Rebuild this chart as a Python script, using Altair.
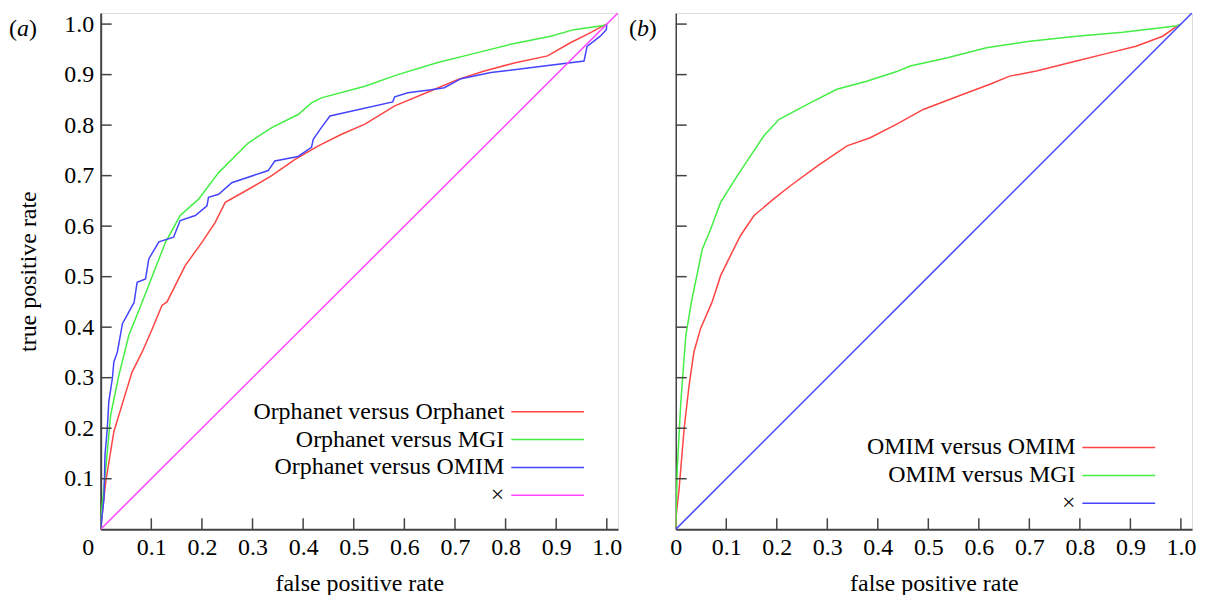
import altair as alt
import pandas as pd

# ---------------- data ----------------
# Panel (a)
a_oo_x = [0, 0.002, 0.01, 0.026, 0.046, 0.062, 0.082, 0.102, 0.121, 0.131, 0.167, 0.200, 0.226, 0.246, 0.292,
          0.338, 0.384, 0.430, 0.476, 0.522, 0.581, 0.653, 0.705, 0.758, 0.817, 0.883, 0.928, 0.968, 0.997, 1.0]
a_oo_y = [0, 0.022, 0.094, 0.193, 0.259, 0.311, 0.351, 0.397, 0.443, 0.450, 0.522, 0.568, 0.607, 0.647, 0.673,
          0.700, 0.732, 0.759, 0.782, 0.802, 0.838, 0.868, 0.890, 0.907, 0.923, 0.937, 0.963, 0.983, 0.999, 1.0]

a_om_x = [0, 0.001, 0.010, 0.0197, 0.036, 0.0557, 0.082, 0.128, 0.157, 0.193, 0.233, 0.292, 0.338, 0.390,
          0.4165, 0.436, 0.522, 0.587, 0.666, 0.731, 0.810, 0.889, 0.935, 0.994, 1.0]
a_om_y = [0, 0.028, 0.120, 0.226, 0.305, 0.384, 0.450, 0.568, 0.621, 0.653, 0.706, 0.765, 0.795, 0.821,
          0.844, 0.854, 0.877, 0.900, 0.924, 0.940, 0.960, 0.976, 0.989, 0.997, 1.0]

a_oi_x = [0, 0.0065, 0.0085, 0.013, 0.016, 0.023, 0.026, 0.033, 0.043, 0.066, 0.072, 0.0886, 0.095, 0.115,
          0.144, 0.157, 0.187, 0.210, 0.213, 0.233, 0.259, 0.331, 0.344, 0.390, 0.4165, 0.420, 0.436, 0.453,
          0.577, 0.581, 0.607, 0.653, 0.679, 0.712, 0.771, 0.955, 0.961, 0.987, 0.999, 1.0]
a_oi_y = [0, 0.061, 0.147, 0.199, 0.252, 0.298, 0.331, 0.351, 0.407, 0.449, 0.489, 0.4955, 0.535, 0.569,
          0.578, 0.611, 0.621, 0.640, 0.657, 0.663, 0.686, 0.710, 0.729, 0.738, 0.756, 0.772, 0.795, 0.818,
          0.846, 0.856, 0.864, 0.870, 0.874, 0.892, 0.904, 0.927, 0.956, 0.976, 0.989, 1.0]

diag_x = [0, 1.03]
diag_y = [0, 1.03]

# Panel (b)
b_oo_x = [0, 0.001, 0.0067, 0.0166, 0.0264, 0.036, 0.049, 0.072, 0.0888, 0.1085, 0.128, 0.155, 0.194, 0.227,
          0.280, 0.339, 0.385, 0.4375, 0.490, 0.569, 0.622, 0.661, 0.714, 0.793, 0.858, 0.911, 0.964, 0.9935, 1.0]
b_oo_y = [0, 0.028, 0.081, 0.199, 0.285, 0.351, 0.397, 0.450, 0.502, 0.542, 0.581, 0.621, 0.654, 0.680,
          0.719, 0.759, 0.775, 0.802, 0.831, 0.861, 0.881, 0.897, 0.907, 0.927, 0.943, 0.956, 0.976, 0.997, 1.0]

b_om_x = [0, 0.001, 0.003, 0.010, 0.020, 0.031, 0.0527, 0.069, 0.0888, 0.122, 0.148, 0.1745, 0.204, 0.266,
          0.319, 0.378, 0.4375, 0.464, 0.536, 0.615, 0.701, 0.793, 0.885, 0.990, 1.0]
b_om_y = [0, 0.041, 0.120, 0.252, 0.384, 0.450, 0.555, 0.594, 0.647, 0.700, 0.739, 0.779, 0.811, 0.844,
          0.871, 0.887, 0.906, 0.917, 0.933, 0.953, 0.966, 0.976, 0.984, 0.996, 1.0]

a_names = ["Orphanet versus Orphanet", "Orphanet versus MGI", "Orphanet versus OMIM", "×"]
b_names = ["OMIM versus OMIM", "OMIM versus MGI", "×"]
a_colors = ["#ff4444", "#44ee44", "#4444ff", "#ff44ff"]
b_colors = ["#ff4444", "#44ee44", "#4444ff"]

tick_vals = [0.1, 0.2, 0.3, 0.4, 0.5, 0.6, 0.7, 0.8, 0.9, 1.0]
x_label_vals = [0, 0.1, 0.2, 0.3, 0.4, 0.5, 0.6, 0.7, 0.8, 0.9, 1.0]

FONT = "Liberation Serif"
FS = 24
AX = "#444444"
DOM = [0, 1.022]


def make_df(series):
    rows = []
    for name, xs, ys in series:
        for i, (x, y) in enumerate(zip(xs, ys)):
            rows.append({"series": name, "fpr": x, "tpr": y, "i": i})
    return pd.DataFrame(rows)


def panel(series, names, colors, W, H, show_ylabels, tag, tag_dx, legend_x, legend_y0, legend_step, zero_off):
    df = make_df(series)
    xs = alt.Scale(domain=DOM, nice=False, zero=False)
    ys = alt.Scale(domain=DOM, nice=False, zero=False)
    cs = alt.Scale(domain=names, range=colors)

    xaxis = alt.Axis(values=x_label_vals, ticks=False, grid=False, domainColor=AX, domainWidth=2,
                     labelPadding=6, labelFlush=False,
                     labelExpr="datum.value == 0 ? '0' : format(datum.value, '.1f')",
                     labelOffset={"condition": {"test": "datum.value == 0", "value": zero_off}, "value": 0},
                     title="false positive rate", titlePadding=12)
    if show_ylabels:
        yaxis = alt.Axis(values=tick_vals, ticks=False, grid=False, domainColor=AX, domainWidth=2,
                         labelPadding=7, labelFlush=False, format=".1f", title="true positive rate",
                         titlePadding=23)
    else:
        yaxis = alt.Axis(values=tick_vals, ticks=False, grid=False, domainColor=AX, domainWidth=1.5,
                         labels=False, title=None)

    lines = alt.Chart(df).mark_line(clip=True, strokeWidth=1.5).encode(
        x=alt.X("fpr:Q", scale=xs, axis=xaxis),
        y=alt.Y("tpr:Q", scale=ys, axis=yaxis),
        color=alt.Color("series:N", scale=cs, legend=None),
        order=alt.Order("i:Q"),
    )
    tdf = pd.DataFrame({"t": tick_vals})
    xt = alt.Chart(tdf).mark_rule(color=AX, strokeWidth=1.5).encode(
        x=alt.X("t:Q", scale=xs, axis=xaxis), y=alt.value(H), y2=alt.value(H - 11))
    yt = alt.Chart(tdf).mark_rule(color=AX, strokeWidth=1.5).encode(
        y=alt.Y("t:Q", scale=ys, axis=yaxis), x=alt.value(0), x2=alt.value(11))

    layers = [lines, xt, yt]
    # legend built manually: label on the left, line on the right
    for k, (nm, col) in enumerate(zip(names, colors)):
        yy = legend_y0 + k * legend_step
        ldf = pd.DataFrame({"label": [nm]})
        layers.append(alt.Chart(ldf).mark_text(align="right", baseline="middle", font=FONT, fontSize=FS,
                                               color="black").encode(
            text="label:N", x=alt.value(legend_x), y=alt.value(yy)))
        layers.append(alt.Chart(ldf).mark_rule(color=col, strokeWidth=1.5).encode(
            x=alt.value(legend_x + 7), x2=alt.value(legend_x + 80), y=alt.value(yy)))

    # panel tag "(a)" / "(b)"
    tdf2 = pd.DataFrame({"p": ["("], "l": [tag], "q": [")"]})
    layers.append(alt.Chart(tdf2).mark_text(align="left", baseline="middle", font=FONT, fontSize=FS,
                                            color="black").encode(text="p:N", x=alt.value(tag_dx), y=alt.value(16)))
    layers.append(alt.Chart(tdf2).mark_text(align="left", baseline="middle", font=FONT, fontSize=FS,
                                            fontStyle="italic", color="black").encode(
        text="l:N", x=alt.value(tag_dx + 8), y=alt.value(16)))
    layers.append(alt.Chart(tdf2).mark_text(align="left", baseline="middle", font=FONT, fontSize=FS,
                                            color="black").encode(
        text="q:N", x=alt.value(tag_dx + 20), y=alt.value(16)))

    return alt.layer(*layers).properties(width=W, height=H)


left = panel([(a_names[0], a_oo_x, a_oo_y), (a_names[1], a_om_x, a_om_y), (a_names[2], a_oi_x, a_oi_y),
              (a_names[3], diag_x, diag_y)], a_names, a_colors, 519, 518, True, "a", -92, 405, 400, 28, -13)
right = panel([(b_names[0], b_oo_x, b_oo_y), (b_names[1], b_om_x, b_om_y), (b_names[2], diag_x, diag_y)],
              b_names, b_colors, 518, 518, False, "b", -47, 401, 436, 28, 0)

chart = alt.hconcat(left, right, spacing=58, bounds="flush").resolve_scale(color="independent").properties(
    padding={"left": 0, "top": 2, "right": 0, "bottom": 0}
).configure_view(strokeWidth=0).configure(background="white").configure_axis(
    labelFont=FONT, labelFontSize=FS, labelColor="black",
    titleFont=FONT, titleFontSize=FS, titleFontWeight="normal", titleColor="black"
)

chart.save("out.html", embed_options={"renderer": "svg", "actions": False})
